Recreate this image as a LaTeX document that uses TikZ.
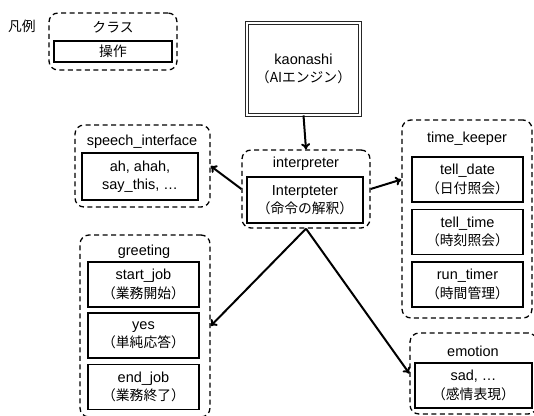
\documentclass[tikz,border=0pt]{standalone}
\usepackage{fontspec}
\setmainfont{Liberation Sans}
\newfontfamily\jp[Scale=0.95]{Noto Sans CJK JP}
\usetikzlibrary{arrows.meta}

\tikzset{
  pkg/.style={draw, dash pattern=on 5pt off 3.5pt, line width=1.3pt, rounded corners=9pt, inner sep=0pt},
  op/.style={draw, line width=1.3pt, fill=white, align=center, inner sep=0pt},
  engine/.style={draw=black!85, double=white, double distance=1.6pt, line width=0.9pt, align=center, inner sep=0pt},
}

\begin{document}
\begin{tikzpicture}[x=1pt, y=-1pt, font=\fontsize{14.5}{18.5}\selectfont]

      \useasboundingbox (0,0) rectangle (534,415);
      \clip (0,0) rectangle (534,415);

      % dashed class boxes
      \begin{scope}[every node/.style={pkg}]
        \node (leg) at (113,41.5)   [minimum width=128pt, minimum height=57pt]  {};
        \node (ip)  at (306,189)    [minimum width=128pt, minimum height=78pt]  {};
        \node (sp)  at (142.5,166)  [minimum width=135pt, minimum height=82pt]  {};
        \node (tk)  at (467,219)    [minimum width=130pt, minimum height=198pt] {};
        \node (gr)  at (145,326)    [minimum width=130pt, minimum height=182pt] {};
        \node (em)  at (473.5,373.5)[minimum width=127pt, minimum height=81pt]  {};
      \end{scope}

      % class names
      \node (legname) at (22,26)   {\jp 凡例};
      \node (legcls)  at (113,27)  {\jp クラス};
      \node (ipname)  at (306,164) {interpreter};
      \node (spname)  at (142,142) {speech\_interface};
      \node (tkname)  at (467,139) {time\_keeper};
      \node (grname)  at (144,252) {greeting};
      \node (emname)  at (473,351) {emotion};

      % operations
      \begin{scope}[every node/.style={op, minimum width=111pt, minimum height=45pt}]
        \node (legop) at (113,51.5)   [minimum width=118pt, minimum height=21pt] {\jp 操作};
        \node (ipop)  at (305,200)    [minimum width=116pt, minimum height=46pt] {Interpteter\\{\jp （命令の解釈）}};
        \node (spop)  at (140,176.5)  [minimum width=116pt, minimum height=47pt] {ah, ahah,\\say\_this, …};
        \node (td)    at (467.5,179.5) {tell\_date\\{\jp （日付照会）}};
        \node (tt)    at (467.5,232)   {tell\_time\\{\jp （時刻照会）}};
        \node (rt)    at (467.5,284.5) {run\_timer\\{\jp （時間管理）}};
        \node (sj)    at (143.5,284.5) {start\_job\\{\jp （業務開始）}};
        \node (ys)    at (143.5,335.5) {yes\\{\jp （単純応答）}};
        \node (ej)    at (143.5,387)   {end\_job\\{\jp （業務終了）}};
        \node (emop)  at (473.5,385.5) [minimum width=117pt] {sad, …\\{\jp （感情表現）}};
      \end{scope}

      \node[engine, minimum width=113pt, minimum height=92pt] (kao) at (303.5,69) {kaonashi\\{\jp （AIエンジン）}};

      \begin{scope}[every edge/.style={draw, line width=2pt, -{To[length=6pt,width=9pt]}}]
        \path (kao.south) edge (ip.north);
        \path (ip.west)   edge (sp.east);
        \path (ip.east)   edge (tk.west |- td);
        \path (ip.south)  edge (gr.east);
        \path (ip.south)  edge (em.west);
      \end{scope}

    \end{tikzpicture}
\end{document}
